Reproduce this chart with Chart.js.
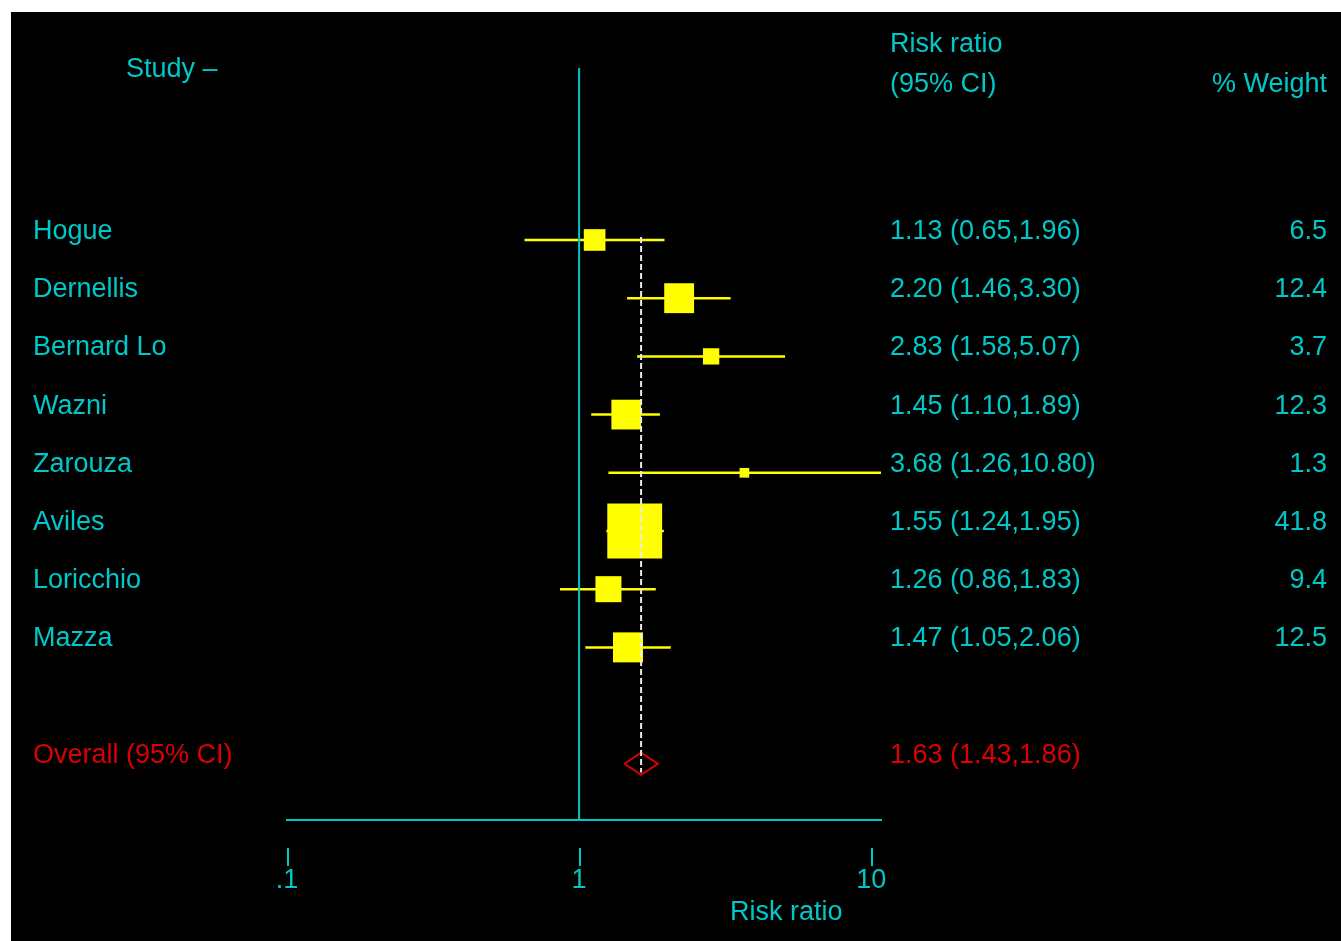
<!DOCTYPE html>
<html>
<head>
<meta charset="utf-8">
<script src="https://cdn.jsdelivr.net/npm/chart.js@4.4.1/dist/chart.umd.min.js"></script>
<style>
html, body { margin: 0; padding: 0; background: #fff; }
#wrap { position: absolute; left: 11px; top: 12px; }
</style>
</head>
<body>
<div id="wrap"><canvas id="forest" width="1330" height="929"></canvas></div>
<script>
const studies = ['Hogue', 'Dernellis', 'Bernard Lo', 'Wazni', 'Zarouza', 'Aviles', 'Loricchio', 'Mazza']
const riskRatios = [1.13, 2.20, 2.83, 1.45, 3.68, 1.55, 1.26, 1.47]
const ciLow = [0.65, 1.46, 1.58, 1.10, 1.26, 1.24, 0.86, 1.05]
const ciHigh = [1.96, 3.30, 5.07, 1.89, 10.80, 1.95, 1.83, 2.06]
const weights = [6.5, 12.4, 3.7, 12.3, 1.3, 41.8, 9.4, 12.5]

const overallLabel = 'Overall (95% CI)'
const overallRR = 1.63
const overallLow = 1.43
const overallHigh = 1.86

const xTickValues = [0.1, 1, 10]
const xTickLabels = ['.1', '1', '10']

const CYAN = '#00c8c8'
const YELLOW = '#ffff00'
const RED = '#dd0000'
const FONT = '"Liberation Sans", Arial, sans-serif'
const FS = 27

// row layout: studies on 0..n-1, one blank row, then the overall line
const overallRow = studies.length + 1
const yTop = -2.955
const yBottom = 9.966

const fmt = (v, lo, hi) => `${v.toFixed(2)} (${lo.toFixed(2)},${hi.toFixed(2)})`

const forestText = {
    id: 'forestText',
    beforeDraw(chart) {
        const { ctx, width, height } = chart
        ctx.save()
        ctx.fillStyle = '#000'
        ctx.fillRect(0, 0, width, height)
        ctx.restore()
    },
    afterDraw(chart) {
        const { ctx } = chart
        const x = chart.scales.x
        const y = chart.scales.y
        ctx.save()
        ctx.font = `${FS}px ${FONT}`
        ctx.textBaseline = 'alphabetic'
        ctx.fillStyle = CYAN

        ctx.textAlign = 'left'
        ctx.fillText('Study \u2013', 115, 65)
        ctx.fillText('Risk ratio', 879, 40)
        ctx.fillText('(95% CI)', 879, 80)
        ctx.textAlign = 'right'
        ctx.fillText('% Weight', 1316, 80)

        studies.forEach((name, i) => {
            const py = y.getPixelForValue(i) - 1
            ctx.textAlign = 'left'
            ctx.fillText(name, 22, py)
            ctx.fillText(fmt(riskRatios[i], ciLow[i], ciHigh[i]), 879, py)
            ctx.textAlign = 'right'
            ctx.fillText(weights[i].toFixed(1), 1316, py)
        })

        const oy = y.getPixelForValue(overallRow) - 1
        ctx.fillStyle = RED
        ctx.textAlign = 'left'
        ctx.fillText(overallLabel, 22, oy)
        ctx.fillText(fmt(overallRR, overallLow, overallHigh), 879, oy)

        // detached tick marks above the tick labels
        ctx.strokeStyle = CYAN
        ctx.lineWidth = 2
        xTickValues.forEach(v => {
            const px = Math.round(x.getPixelForValue(v)) + 1
            ctx.beginPath()
            ctx.moveTo(px, 836)
            ctx.lineTo(px, 854)
            ctx.stroke()
        })

        ctx.fillStyle = CYAN
        ctx.textAlign = 'left'
        ctx.fillText('Risk ratio', 719, 908)
        ctx.restore()
    }
}

const lineDs = (data, color, width, dash) => ({
    type: 'line',
    data,
    borderColor: color,
    borderWidth: width,
    borderDash: dash || [],
    pointRadius: 0,
    fill: false,
    tension: 0
})

const datasets = [
    lineDs([{ x: overallRR, y: -0.05 }, { x: overallRR, y: overallRow + 0.15 }], '#ececec', 2, [6, 3]),
    lineDs([{ x: 1, y: yTop }, { x: 1, y: yBottom }], CYAN, 2),
    {
        type: 'scatter',
        data: riskRatios.map((v, i) => ({ x: v, y: i })),
        pointStyle: 'rect',
        backgroundColor: YELLOW,
        borderWidth: 0,
        pointRadius: ctx => 6.0 * Math.sqrt(weights[ctx.dataIndex] || 0),
        pointHoverRadius: ctx => 6.0 * Math.sqrt(weights[ctx.dataIndex] || 0)
    },
    ...studies.map((s, i) => lineDs([{ x: ciLow[i], y: i }, { x: ciHigh[i], y: i }], YELLOW, 2.5)),
    lineDs([
        { x: overallLow, y: overallRow },
        { x: overallRR, y: overallRow - 0.19 },
        { x: overallHigh, y: overallRow },
        { x: overallRR, y: overallRow + 0.19 },
        { x: overallLow, y: overallRow }
    ], RED, 2)
]

new Chart(document.getElementById('forest'), {
    type: 'scatter',
    data: { datasets },
    plugins: [forestText],
    options: {
        responsive: false,
        animation: false,
        events: [],
        layout: { padding: { left: 276, right: 460, top: 56, bottom: 0 } },
        plugins: { legend: { display: false }, tooltip: { enabled: false } },
        scales: {
            x: {
                type: 'logarithmic',
                min: 0.1,
                max: 10.8,
                afterFit: scale => { scale.height = 121 },
                afterBuildTicks: scale => { scale.ticks = xTickValues.map(v => ({ value: v })) },
                grid: { display: true, drawOnChartArea: false, drawTicks: false, color: 'transparent' },
                border: { display: true, color: CYAN, width: 2 },
                ticks: {
                    color: CYAN,
                    font: { family: FONT, size: FS },
                    padding: 44,
                    maxRotation: 0,
                    autoSkip: false,
                    callback: (value, index) => xTickLabels[index]
                }
            },
            y: {
                type: 'linear',
                reverse: true,
                min: yTop,
                max: yBottom,
                display: false
            }
        }
    }
})
</script>
</body>
</html>
